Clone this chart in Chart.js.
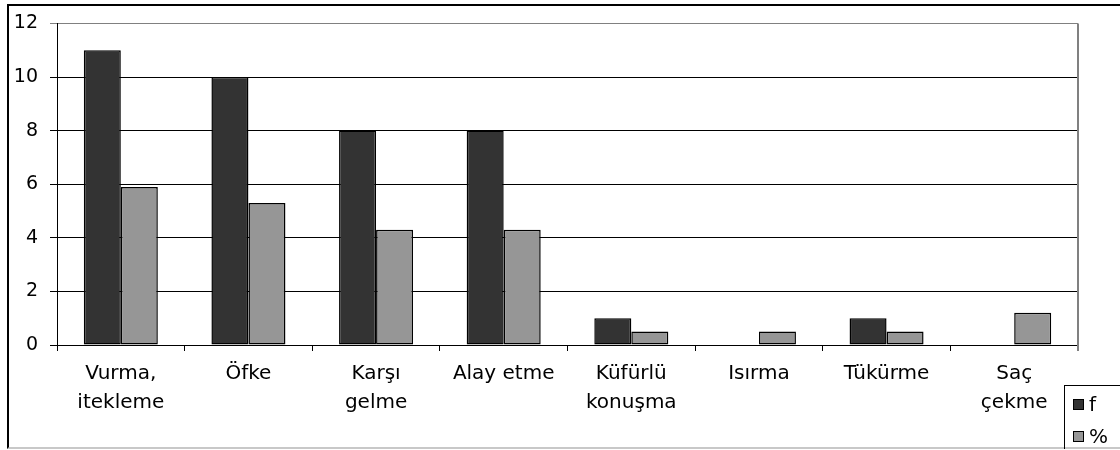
<!DOCTYPE html>
<html lang="tr">
<head>
<meta charset="UTF-8">
<title>Saldırganlık davranışları</title>
<script src="https://cdn.jsdelivr.net/npm/chart.js"></script>
<style>
    body { margin: 0; background: #fff; }
    .janela { position: relative; width: 1120px; height: 450px; overflow: hidden; }
    .cerceve {
        position: absolute; left: 7px; top: 4px; width: 1120px; height: 441px;
        border-left: 2px solid #000; border-top: 2px solid #000; border-bottom: 2px solid #c8c8c8;
    }
    #grafico { position: absolute; left: 0; top: 0; }
    .legenda {
        position: absolute; left: 1064px; top: 385px; width: 60px; height: 63px;
        border-left: 1px solid #000; border-top: 1px solid #000;
        font-family: "DejaVu Sans", sans-serif; font-size: 20px; color: #000;
    }
    .legenda div { position: absolute; left: 8px; height: 20px; line-height: 20px; }
    .legenda span.kutu { display: inline-block; width: 9px; height: 9px; border: 1px solid #000; margin-right: 5px; vertical-align: 1px; }
</style>
</head>
<body>

<div class="janela">
    <div class="cerceve"></div>
    <canvas id="grafico" width="1120" height="450"></canvas>
    <div class="legenda" id="legenda"></div>
</div>

<script>
    // dados
    const kategoriler = [
        ['Vurma,', 'itekleme'], 'Öfke', ['Karşı', 'gelme'], 'Alay etme',
        ['Küfürlü', 'konuşma'], 'Isırma', 'Tükürme', ['Saç', 'çekme']
    ];
    const frekans = [11, 10, 8, 8, 1, 0, 1, 0];
    const yuzde = [5.9, 5.3, 4.3, 4.3, 0.5, 0.5, 0.5, 1.2];
    const eksenDegerleri = [0, 2, 4, 6, 8, 10, 12];

    const fonte = { family: '"DejaVu Sans", sans-serif', size: 20, lineHeight: 1.45 };

    // borda cinza do lado direito da área do gráfico
    const bordaDireita = {
        id: 'bordaDireita',
        afterDraw(chart) {
            const a = chart.chartArea;
            const ctx = chart.ctx;
            ctx.save();
            ctx.strokeStyle = '#808080';
            ctx.lineWidth = 2;
            ctx.beginPath();
            ctx.moveTo(a.right, a.top);
            ctx.lineTo(a.right, a.bottom + 6);
            ctx.stroke();
            ctx.restore();
        }
    };

    const dados = {
        labels: kategoriler,
        datasets: [
            { label: 'f', data: frekans, backgroundColor: '#333333' },
            { label: '%', data: yuzde, backgroundColor: '#969696' }
        ]
    };
    dados.datasets.forEach(function (d) {
        d.borderColor = '#000';
        d.borderWidth = 1.5;
        d.borderSkipped = false;
        d.categoryPercentage = 0.58;
        d.barPercentage = 1;
    });

    const config = {
        type: 'bar',
        data: dados,
        options: {
            responsive: false,
            animation: false,
            layout: { padding: { left: 9, top: 22, right: 42, bottom: 5 } },
            plugins: { legend: { display: false }, tooltip: { enabled: false } },
            scales: {
                x: {
                    afterFit: function (s) { s.height = 100; },
                    grid: { offset: true, drawOnChartArea: false, drawTicks: true, tickLength: 6, color: '#000' },
                    border: { color: '#000', width: 1 },
                    ticks: { color: '#000', font: fonte, padding: 8, maxRotation: 0, autoSkip: false }
                },
                y: {
                    min: 0,
                    max: 12,
                    afterFit: function (s) { s.width = 48; },
                    afterBuildTicks: function (s) { s.ticks = eksenDegerleri.map(v => ({ value: v })); },
                    grid: {
                        color: c => (c.tick && c.tick.value === 12) ? '#808080' : '#000',
                        lineWidth: 1,
                        tickLength: 7
                    },
                    border: { color: '#000', width: 1 },
                    ticks: { color: '#000', font: { family: '"DejaVu Sans", sans-serif', size: 19 }, padding: 12 }
                }
            }
        },
        plugins: [bordaDireita]
    };

    let myChart = new Chart(document.getElementById('grafico'), config);

    // legenda montada a partir dos datasets
    let legenda = document.getElementById('legenda');
    let topos = [8, 40];
    dados.datasets.forEach(function (d, i) {
        let item = document.createElement('div');
        item.style.top = topos[i] + 'px';
        item.innerHTML = '<span class="kutu" style="background:' + d.backgroundColor + '"></span>' + d.label;
        legenda.appendChild(item);
    });
</script>

</body>
</html>
